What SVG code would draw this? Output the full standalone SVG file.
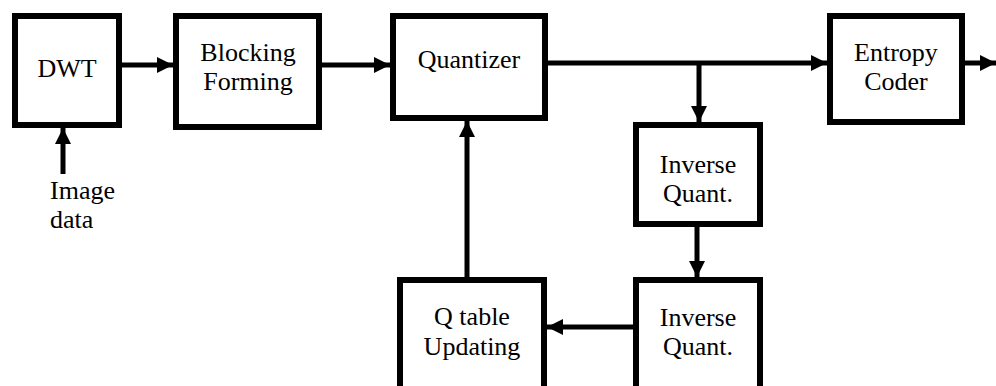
<svg xmlns="http://www.w3.org/2000/svg" width="996" height="386" viewBox="0 0 996 386">
<style>
.box{fill:#fff;stroke:#000;stroke-width:6}
.t{font-family:"Liberation Serif","Times New Roman",serif;font-size:26px;fill:#000;text-anchor:middle}
.ln{fill:none;stroke:#000;stroke-width:5}
</style>
<defs>
<marker id="ah" viewBox="0 0 10 10" refX="10" refY="5" markerWidth="16" markerHeight="16" markerUnits="userSpaceOnUse" orient="auto">
<path d="M0,0 L10,5 L0,10 z" fill="#000"/>
</marker>
</defs>
<rect width="996" height="386" fill="#fff"/>
<g id="connectors">
<line class="ln" x1="122" y1="65" x2="173" y2="65" marker-end="url(#ah)"/>
<line class="ln" x1="63" y1="174" x2="63" y2="128" marker-end="url(#ah)"/>
<line class="ln" x1="322" y1="65" x2="390" y2="65" marker-end="url(#ah)"/>
<line class="ln" x1="548" y1="63" x2="827" y2="63" marker-end="url(#ah)"/>
<line class="ln" x1="965" y1="63" x2="996" y2="63" marker-end="url(#ah)"/>
<line class="ln" x1="699" y1="63" x2="699" y2="122" marker-end="url(#ah)"/>
<line class="ln" x1="697" y1="227" x2="697" y2="277" marker-end="url(#ah)"/>
<line class="ln" x1="633" y1="327" x2="547" y2="327" marker-end="url(#ah)"/>
<line class="ln" x1="467" y1="277" x2="467" y2="121" marker-end="url(#ah)"/>
</g>
<g id="dwt">
<rect class="box" x="15" y="16" width="104" height="109"/>
<text class="t" x="67" y="77">DWT</text>
</g>
<g id="image-data">
<text class="t" x="50" y="199" style="text-anchor:start">Image</text>
<text class="t" x="50" y="228" style="text-anchor:start">data</text>
</g>
<g id="blocking">
<rect class="box" x="176" y="16" width="143" height="111"/>
<text class="t" x="248" y="61">Blocking</text>
<text class="t" x="248" y="90">Forming</text>
</g>
<g id="quantizer">
<rect class="box" x="393" y="16" width="152" height="102"/>
<text class="t" x="469" y="68">Quantizer</text>
</g>
<g id="entropy">
<rect class="box" x="830" y="16" width="132" height="106"/>
<text class="t" x="896" y="61">Entropy</text>
<text class="t" x="896" y="90">Coder</text>
</g>
<g id="inv-quant-1">
<rect class="box" x="636" y="125" width="124" height="99"/>
<text class="t" x="698" y="173">Inverse</text>
<text class="t" x="698" y="202">Quant.</text>
</g>
<g id="inv-quant-2">
<rect class="box" x="636" y="280" width="124" height="115"/>
<text class="t" x="698" y="326">Inverse</text>
<text class="t" x="698" y="355">Quant.</text>
</g>
<g id="qtable">
<rect class="box" x="400" y="280" width="144" height="115"/>
<text class="t" x="472" y="325">Q table</text>
<text class="t" x="472" y="355">Updating</text>
</g>
</svg>
